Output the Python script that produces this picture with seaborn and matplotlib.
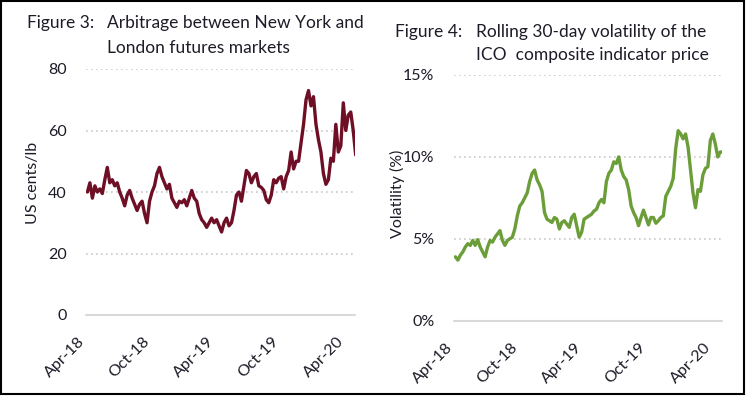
import pandas as pd
import numpy as np
import seaborn as sns
import matplotlib.pyplot as plt
from matplotlib.patches import Rectangle

# weekly readings, first week of April 2018 to late April 2020
start_date = "2018-04-02"

arbitrage = [40, 43, 38, 42, 40, 41, 39.5, 44, 48, 43,
             44, 42, 43, 40, 38, 35.5, 39, 40.5, 38, 36,
             34, 36, 37, 33, 30, 37, 40, 42, 46, 48,
             45, 43, 41, 42.5, 38, 36.5, 35, 37, 36.5, 37.5,
             35.5, 38, 40.5, 38, 37, 33, 31, 30, 28.5, 30,
             31.5, 30, 31, 29, 27, 30, 31.5, 29, 30, 34,
             39, 40, 37, 42, 47, 46, 43, 45, 46, 42,
             41.5, 40.5, 37.5, 36.5, 39, 44, 43, 44.5, 45, 41,
             45, 47, 53, 47.5, 50, 50, 56, 62, 70, 73,
             68, 71, 62, 57, 53, 46, 42.5, 44, 51, 50,
             62, 53, 55, 69, 60, 65, 66, 60, 52]

volatility = [3.9, 3.7, 4.0, 4.2, 4.5, 4.7, 4.6, 4.9, 4.6, 4.95,
              4.5, 4.2, 3.9, 4.5, 4.9, 4.8, 5.1, 5.3, 5.5, 4.9,
              4.6, 4.9, 5.0, 5.1, 5.6, 6.4, 7.0, 7.2, 7.5, 7.8,
              8.5, 9.0, 9.2, 8.6, 8.3, 7.9, 6.6, 6.2, 6.1, 6.0,
              6.3, 6.2, 5.6, 6.0, 6.1, 5.9, 5.7, 6.3, 6.5, 5.8,
              5.1, 5.4, 6.2, 6.3, 6.4, 6.5, 6.7, 6.8, 7.2, 7.4,
              7.2, 8.5, 9.0, 9.2, 9.7, 9.6, 10.0, 9.2, 8.8, 8.6,
              8.0, 7.0, 6.6, 6.3, 5.8, 6.3, 6.75, 6.3, 5.85, 6.3,
              6.3, 5.95, 6.1, 6.3, 6.4, 7.6, 7.9, 8.2, 8.7, 10.5,
              11.6, 11.4, 11.1, 11.4, 10.6, 9.2, 7.8, 6.9, 8.0, 7.9,
              8.9, 9.3, 9.4, 11.0, 11.4, 10.8, 10.0, 10.3, 10.3]

tick_dates = ["2018-04-01", "2018-10-01", "2019-04-01", "2019-10-01", "2020-04-01"]
tick_labels = ["Apr-18", "Oct-18", "Apr-19", "Oct-19", "Apr-20"]

df = pd.DataFrame({
    "date": pd.date_range(start_date, periods=len(arbitrage), freq="7D"),
    "arbitrage": arbitrage,
    "volatility": volatility,
})

sns.set_style("white")
plt.rcParams["font.family"] = ["Lato", "DejaVu Sans"]
text_col = "#1c1c28"

fig = plt.figure(figsize=(7.47, 3.96), dpi=100)
W, H = 747, 396

def place(left, top, right, bottom):
    return fig.add_axes([left / W, 1 - bottom / H, (right - left) / W, (bottom - top) / H])

ax1 = place(86, 69, 355, 315)
ax2 = place(454, 75, 722, 320.7)

sns.lineplot(data=df, x="date", y="arbitrage", ax=ax1, color="#6e0f26", lw=2.4)
sns.lineplot(data=df, x="date", y="volatility", ax=ax2, color="#6b9d39", lw=2.4)

xlim = (pd.Timestamp("2018-03-29"), pd.Timestamp("2020-04-25"))
for ax, ticks in [(ax1, [0, 20, 40, 60, 80]), (ax2, [0, 5, 10, 15])]:
    ax.set_xlim(xlim)
    ax.set_ylim(ticks[0], ticks[-1])
    ax.set_yticks(ticks)
    ax.set_xticks(pd.to_datetime(tick_dates))
    ax.set_xticklabels(tick_labels, rotation=45, ha="right", va="top")
    ax.tick_params(axis="x", length=0, pad=14, labelsize=11.5, labelcolor=text_col)
    ax.tick_params(axis="y", length=0, pad=14, labelsize=11.5, labelcolor=text_col)
    for t in ticks[1:]:
        ax.axhline(t, color="#c8c8c8", lw=1.2, ls=(0, (1, 2)), zorder=0)
    ax.axhline(0, color="#d9d9d9", lw=1.5, zorder=0, clip_on=False)
    sns.despine(ax=ax, left=True, bottom=True)
    ax.set_xlabel("")

ax2.set_yticklabels(["0%", "5%", "10%", "15%"])
ax1.set_ylabel("US cents/lb", fontsize=11.5, color=text_col)
ax2.set_ylabel("Volatility (%)", fontsize=11.5, color=text_col)
ax1.yaxis.set_label_coords(-0.171, 0.537)
ax2.yaxis.set_label_coords(-0.183, 0.516)

fs = 12.5
fig.text(27 / W, 1 - 23 / H, "Figure 3:", fontsize=fs, color=text_col, va="center")
fig.text(107 / W, 1 - 23 / H, "Arbitrage between New York and", fontsize=fs, color=text_col, va="center")
fig.text(107 / W, 1 - 48 / H, "London futures markets", fontsize=fs, color=text_col, va="center")
fig.text(395 / W, 1 - 32 / H, "Figure 4:", fontsize=fs, color=text_col, va="center")
fig.text(476 / W, 1 - 32 / H, "Rolling 30-day volatility of the", fontsize=fs, color=text_col, va="center")
fig.text(476 / W, 1 - 55 / H, "ICO  composite indicator price", fontsize=fs, color=text_col, va="center")

fig.patches.append(Rectangle((0.5 / W, 2 / H), 743 / W, 393 / H, transform=fig.transFigure,
                             fill=False, edgecolor="black", lw=1.5))

fig.savefig("out.png", dpi=100)
